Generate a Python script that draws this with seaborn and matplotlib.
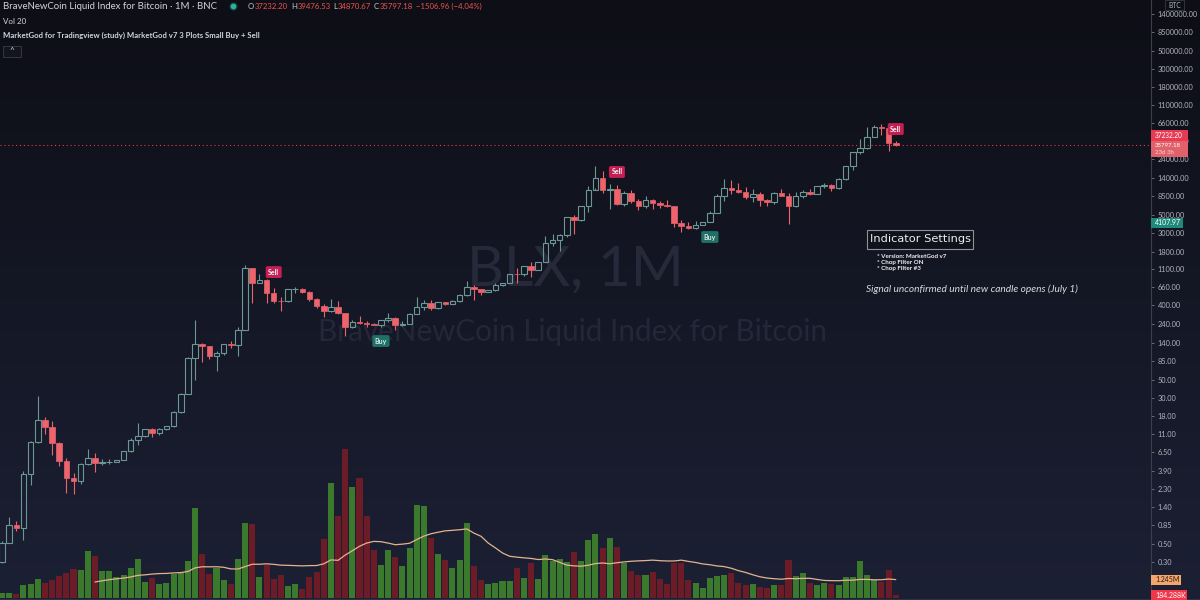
import numpy as np
import pandas as pd
import matplotlib
matplotlib.use("Agg")
import matplotlib.pyplot as plt
from matplotlib.patches import Rectangle
from matplotlib.ticker import NullLocator, FixedLocator, FixedFormatter
import seaborn as sns

# ---------------- data (monthly BLX, Jul 2010 - Jun 2021) ----------------
months = pd.date_range("2010-07-01", "2021-06-01", freq="MS")

opens = [0.05, 0.07, 0.06, 0.06, 0.19, 0.21,
         0.30, 0.52, 0.86, 0.78, 3.50, 8.70, 16.1, 13.4, 8.4, 5.1, 3.2, 2.95,
         4.7, 5.5, 4.87, 4.92, 5.0, 5.2, 6.7, 9.2, 10.2, 12.4, 11.2, 12.5,
         13.5, 20.1, 33.3, 92, 135, 129, 97, 106, 135, 133, 200, 1130,
         750, 810, 560, 455, 448, 625, 640, 585, 480, 387, 338, 378,
         320, 218, 254, 244, 236, 230, 263, 284, 230, 236, 314, 377,
         430, 370, 437, 416, 448, 530, 670, 624, 575, 608, 700, 745,
         965, 955, 1190, 1080, 1350, 2300, 2480, 2870, 4700, 4340, 6450, 10000,
         14150, 10100, 10300, 6900, 9240, 7500, 6400, 7730, 7030, 6630, 6370, 4040,
         3740, 3460, 3830, 4100, 5310, 8550, 10800, 10100, 9600, 8300, 9150, 7550,
         7190, 9350, 8540, 6420, 8630, 9450, 9140, 11350, 11650, 10780, 13800, 19700,
         29000, 33100, 45100, 58800, 57700, 37232.20]
highs = [0.10, 0.07, 0.07, 0.20, 0.50, 0.30,
         0.55, 1.06, 0.95, 3.9, 8.9, 31.6, 17.5, 15.5, 8.8, 5.5, 3.6, 4.8,
         7.1, 6.3, 5.4, 5.4, 5.2, 6.8, 9.7, 14.8, 12.6, 12.9, 12.9, 13.6,
         21, 34, 95, 265, 140, 129, 110, 136, 146, 215, 1240, 1150,
         960, 830, 651, 506, 630, 670, 650, 600, 490, 415, 475, 455,
         320, 265, 300, 260, 247, 268, 318, 285, 260, 326, 500, 468,
         462, 445, 440, 470, 550, 780, 705, 630, 620, 740, 757, 970,
         1150, 1200, 1350, 1350, 2760, 2980, 2920, 4750, 4980, 6470, 11400, 19800,
         17200, 11800, 11700, 9750, 10000, 7770, 8500, 7780, 7400, 7670, 6550, 4310,
         4100, 4200, 4100, 5640, 9100, 13900, 13200, 12300, 10950, 10400, 9500, 7750,
         9580, 10500, 9200, 9450, 10050, 10400, 11450, 12470, 12080, 14000, 19900, 29300,
         41900, 58300, 61800, 64900, 59500, 39476.53]
lows = [0.05, 0.06, 0.06, 0.06, 0.19, 0.20,
        0.29, 0.52, 0.72, 0.56, 2.6, 8.5, 11.0, 6.0, 4.4, 2.1, 2.0, 2.7,
        4.6, 3.8, 4.6, 4.7, 4.9, 5.2, 6.5, 8.1, 9.9, 10.1, 10.5, 12.2,
        13.2, 19.6, 33, 49, 82, 88, 64, 99, 120, 97, 198, 427,
        740, 427, 430, 341, 440, 560, 565, 450, 375, 290, 330, 310,
        170, 212, 240, 216, 230, 220, 254, 199, 226, 236, 314, 350,
        355, 365, 400, 410, 445, 520, 470, 535, 575, 605, 695, 742,
        750, 920, 890, 1080, 1350, 2100, 1840, 2700, 2970, 4200, 5500, 10700,
        9400, 5940, 6600, 6450, 7030, 5780, 6070, 5880, 6100, 6200, 3600, 3150,
        3400, 3400, 3750, 4080, 5330, 7500, 9100, 9350, 7750, 7300, 6550, 6450,
        6870, 8450, 3850, 6200, 8150, 8900, 8980, 10800, 9880, 10400, 13250, 17600,
        28100, 32300, 45000, 47000, 30000, 34870.67]
closes = [0.07, 0.06, 0.06, 0.19, 0.21, 0.30,
          0.52, 0.86, 0.78, 3.50, 8.70, 16.1, 13.4, 8.4, 5.1, 3.2, 2.95, 4.7,
          5.5, 4.87, 4.92, 5.0, 5.2, 6.7, 9.2, 10.2, 12.4, 11.2, 12.5, 13.5,
          20.1, 33.3, 92, 135, 129, 97, 106, 135, 133, 200, 1130, 750,
          810, 560, 455, 448, 625, 640, 585, 480, 387, 338, 378, 320,
          218, 254, 244, 236, 230, 263, 284, 230, 236, 314, 377, 430,
          370, 437, 416, 448, 530, 670, 624, 575, 608, 700, 745, 960,
          955, 1190, 1080, 1350, 2300, 2480, 2870, 4700, 4340, 6450, 10000, 14150,
          10100, 10300, 6900, 9240, 7500, 6400, 7730, 7030, 6630, 6370, 4040, 3740,
          3460, 3830, 4100, 5310, 8550, 10800, 10100, 9600, 8300, 9150, 7550, 7190,
          9350, 8540, 6420, 8630, 9450, 9140, 11350, 11650, 10780, 13800, 19700, 29000,
          33100, 45100, 58800, 57700, 37304.14, 35797.18]
# volume in millions
volumes = [0.20, 0.30, 0.30, 0.50, 0.60, 0.47,
           0.34, 0.34, 0.25, 0.86, 0.93, 1.31, 1.02, 1.20, 1.47, 1.71, 1.98, 1.88,
           3.18, 2.84, 1.81, 1.81, 1.42, 1.58, 2.05, 2.66, 1.06, 1.35, 0.97, 1.04,
           1.65, 1.71, 2.50, 6.09, 3.00, 1.65, 2.05, 1.20, 0.97, 2.66, 5.10, 4.99,
           1.40, 2.21, 1.31, 1.54, 0.83, 0.97, 0.63, 1.40, 1.76, 4.01, 7.79, 5.55,
           10.09, 7.51, 8.12, 5.55, 3.23, 2.25, 3.23, 2.78, 2.17, 3.41, 6.28, 6.21,
           4.08, 3.00, 2.55, 2.05, 2.57, 5.10, 2.15, 1.24, 0.93, 1.02, 1.15, 1.13,
           2.03, 1.33, 2.39, 1.27, 2.93, 2.50, 2.66, 2.44, 3.09, 2.48, 3.91, 4.31,
           3.36, 4.08, 3.45, 2.39, 1.83, 1.54, 1.54, 1.76, 1.27, 0.93, 2.39, 2.39,
           1.24, 1.04, 0.70, 1.35, 1.47, 1.56, 1.71, 1.04, 0.90, 0.97, 0.74, 0.66,
           0.90, 0.86, 2.55, 1.47, 1.69, 1.02, 0.88, 1.02, 0.97, 0.90, 1.42, 1.42,
           2.50, 1.54, 1.20, 1.08, 1.92, 0.184288]

sell_months = ["2014-03-01", "2018-03-01", "2021-06-01"]
sell_levels = [1015, 16750, 55800]
buy_months = ["2015-06-01", "2019-04-01"]
buy_levels = [147, 2710]

price_ticks = [1400000, 850000, 500000, 300000, 180000, 110000, 66000, 40000,
               24000, 14000, 8500, 5000, 3000, 1800, 1100, 660, 400, 240, 140,
               85, 50, 30, 18, 11, 6.5, 3.9, 2.3, 1.4, 0.85, 0.5, 0.3]

title = "BraveNewCoin Liquid Index for Bitcoin · 1M · BNC"
study = "MarketGod for Tradingview (study) MarketGod v7 3 Plots Small Buy + Sell"
settings_title = "Indicator Settings"
settings_lines = ["* Version: MarketGod v7", "* Chop Filter ON", "* Chop Filter #3"]
signal_note = "Signal unconfirmed until new candle opens (July 1)"

# ---------------- style ----------------
sns.set_theme(style="dark")
plt.rcParams['font.family'] = ['Lato', 'DejaVu Sans']

W, H = 1200, 600
fig = plt.figure(figsize=(12, 6), dpi=100)
fig.patch.set_facecolor('#141624')

def fx(px):
    return px / W

def fy(py):
    return 1 - py / H

GREEN = '#6b9794'
RED = '#ee646c'
VGREEN = '#3b7a2c'
VRED = '#6c1c27'

# background gradient
bg = fig.add_axes([0, 0, 1, 1], label='bg', zorder=-10)
g = np.linspace(0, 1, 256)[:, None, None]
top = np.array([13, 14, 22]) / 255
bot = np.array([28, 32, 52]) / 255
img = top[None, None, :] * (1 - g) + bot[None, None, :] * g
bg.imshow(img, aspect='auto', extent=[0, 1, 0, 1], origin='upper')
bg.set_xlim(0, 1)
bg.set_ylim(0, 1)
bg.set_axis_off()
bg.text(fx(575), fy(270), "BLX, 1M", ha='center', va='center', fontsize=41,
        color='#252939', transform=bg.transAxes)
bg.text(fx(573), fy(332), "BraveNewCoin Liquid Index for Bitcoin", ha='center',
        va='center', fontsize=21.3, color='#232738', transform=bg.transAxes)

k = np.arange(len(months))
o = np.array(opens); h = np.array(highs); l = np.array(lows); c = np.array(closes)
v = np.array(volumes)
up = c >= o

rect = [0, 2 / H, 1151 / W, 598 / H]
XL = (5.72, 5.72 + 1151 / 7.15)

# volume pane
vax = fig.add_axes(rect, label='vol', zorder=0)
vax.patch.set_alpha(0)
vax.bar(k, v, width=0.84, color=np.where(up, VGREEN, VRED), linewidth=0)
ma = pd.Series(v).rolling(20).mean()
dfma = pd.DataFrame({'k': k, 'ma': ma}).dropna()
sns.lineplot(data=dfma, x='k', y='ma', ax=vax, color='#e2b48e', lw=0.9, legend=False)
vax.set_xlim(*XL)
vax.set_ylim(0, 598 * 0.0677)
vax.set_axis_off()

# price pane
ax = fig.add_axes(rect, label='price', zorder=1)
ax.patch.set_alpha(0)
ax.set_yscale('log')
body_lo = np.minimum(o, c)
body_hi = np.maximum(o, c)
body_hi = np.maximum(body_hi, body_lo * 1.004)
ax.bar(k[up], body_hi[up] - body_lo[up], bottom=body_lo[up], width=0.78,
       facecolor='none', edgecolor=GREEN, linewidth=0.8, zorder=3)
ax.bar(k[~up], body_hi[~up] - body_lo[~up], bottom=body_lo[~up], width=0.78,
       facecolor=RED, edgecolor=RED, linewidth=0.5, zorder=3)
cols = np.where(up, GREEN, RED)
ax.vlines(k, body_hi, h, colors=cols, linewidth=0.8, zorder=2)
ax.vlines(k, l, body_lo, colors=cols, linewidth=0.8, zorder=2)
ax.axhline(closes[-1], color='#e8394f', lw=0.8, ls=(0, (1, 2.5)), zorder=1)

kidx = {m: i for i, m in enumerate(months.strftime("%Y-%m-%d"))}
for m, p in zip(sell_months, sell_levels):
    ax.text(kidx[m], p, "Sell", ha='center', va='center', fontsize=5, fontweight='bold',
            color='#f3f3f3', zorder=6,
            bbox=dict(boxstyle='round,pad=0.35,rounding_size=0.25', fc='#c41f52', ec='none'))
for m, p in zip(buy_months, buy_levels):
    ax.text(kidx[m], p, "Buy", ha='center', va='center', fontsize=5, fontweight='bold',
            color='#d6e6e2', zorder=6,
            bbox=dict(boxstyle='round,pad=0.35,rounding_size=0.25', fc='#1f7067', ec='none'))

ax.set_xlim(*XL)
ax.set_ylim(10 ** (-0.9587), 10 ** 6.3163)
ax.set_xticks([])
ax.yaxis.tick_right()
ax.yaxis.set_major_locator(FixedLocator(price_ticks))
ax.yaxis.set_major_formatter(FixedFormatter([f"{t:.2f}" for t in price_ticks]))
ax.yaxis.set_minor_locator(NullLocator())
ax.tick_params(axis='y', which='major', length=2.5, width=0.6, color='#787b86',
               labelsize=5.3, labelcolor='#b2b5be', pad=2.5)
for s in ['top', 'left', 'bottom']:
    ax.spines[s].set_visible(False)
ax.spines['right'].set_color('#3b3f4c')
ax.spines['right'].set_linewidth(0.8)
ax.grid(False)
vax.grid(False)

# bottom border line
fig.add_artist(Rectangle((0, 0), 1, 1.5 / H, transform=fig.transFigure,
                         fc='#2e3240', ec='none', zorder=4))

# ---------------- right-axis value labels ----------------
def label_box(x0, y0, x1, y1, fc, lines, size=5.0):
    fig.add_artist(Rectangle((fx(x0), fy(y1)), (x1 - x0) / W, (y1 - y0) / H,
                             transform=fig.transFigure, fc=fc, ec='none', zorder=5))
    for txt, col, yy in lines:
        fig.text(fx(x0 + 4), fy(yy), txt, color=col, fontsize=size, ha='left',
                 va='center', zorder=6)

label_box(1151, 130.5, 1188, 140.5, '#e93a54', [("37232.20", 'white', 135.2)], size=4.7)
label_box(1151, 140.5, 1188, 157, '#e1616b',
          [("35797.18", 'white', 145.6), ("23d 3h", '#f6d6d8', 152.4)], size=4.4)
label_box(1151, 218, 1183, 228, '#1f8a7a', [("4107.97", 'white', 223)])
label_box(1151, 575, 1181, 584.5, '#f3a56b', [("1.245M", '#2a1a10', 579.7)])
label_box(1151, 590, 1187, 600, '#f2364a', [("184.288K", 'white', 595)])

# BTC tag
fig.add_artist(Rectangle((fx(1165), fy(9.5)), 19 / W, 9.5 / H, transform=fig.transFigure,
                         fc='none', ec='#363a45', lw=0.6, zorder=5))
fig.text(fx(1174.5), fy(5), "BTC", color='#b2b5be', fontsize=4.8, ha='center', va='center')

# ---------------- header ----------------
fig.text(fx(3), fy(6.5), title, color='#d1d4dc', fontsize=6.9, ha='left', va='center')
bg.scatter([fx(233)], [fy(6.3)], s=22, color='#1d4e4a', zorder=5, transform=bg.transAxes)
bg.scatter([fx(233)], [fy(6.3)], s=8, color='#2bb5a0', zorder=6, transform=bg.transAxes)
fig.canvas.draw()
rend = fig.canvas.get_renderer()

def seq(x_px, y_px, pieces, size):
    x = x_px
    for txt, col, gap in pieces:
        t = fig.text(fx(x), fy(y_px), txt, color=col, fontsize=size, ha='left', va='center')
        x += t.get_window_extent(renderer=rend).width + gap

LG = '#c9ccd4'
RD = '#ef5350'
seq(248, 6.5, [("O", LG, 0.5), ("37232.20", RD, 3), ("H", LG, 0.5), ("39476.53", RD, 3),
               ("L", LG, 0.5), ("34870.67", RD, 3), ("C", LG, 0.5), ("35797.18", RD, 3),
               ("−1506.96 (−4.04%)", RD, 0)], 5.6)

fig.text(fx(3), fy(21), "Vol 20", color='#d1d4dc', fontsize=5.8, ha='left', va='center')
fig.text(fx(3), fy(35), study, color='#d1d4dc', fontsize=5.6, fontweight='bold',
         ha='left', va='center')
fig.add_artist(Rectangle((fx(3), fy(57)), 18 / W, 11 / H, transform=fig.transFigure,
                         fc='#12141f', ec='#3a3e4a', lw=0.6, zorder=5))
fig.text(fx(12), fy(51), "^", color='#d1d4dc', fontsize=6, ha='center', va='center', zorder=6)

# ---------------- indicator settings note ----------------
fig.add_artist(Rectangle((fx(867), fy(248.5)), 106 / W, 18.5 / H, transform=fig.transFigure,
                         fc='#0f111b', ec='#8f929b', lw=0.8, zorder=5))
fig.text(fx(920), fy(239.5), settings_title, color='#eeeeee', fontsize=8.2,
         ha='center', va='center', zorder=6, family=['DejaVu Sans'])
for i, s in enumerate(settings_lines):
    fig.text(fx(877), fy(256 + 6.3 * i), s, color='#f0f0f0', fontsize=4.5,
             fontweight='bold', ha='left', va='center', zorder=6)
fig.text(fx(866), fy(289), signal_note, color='#d8dae0', fontsize=7.3, style='italic',
         ha='left', va='center', zorder=6)

fig.savefig("out.png", dpi=100, facecolor=fig.get_facecolor())
